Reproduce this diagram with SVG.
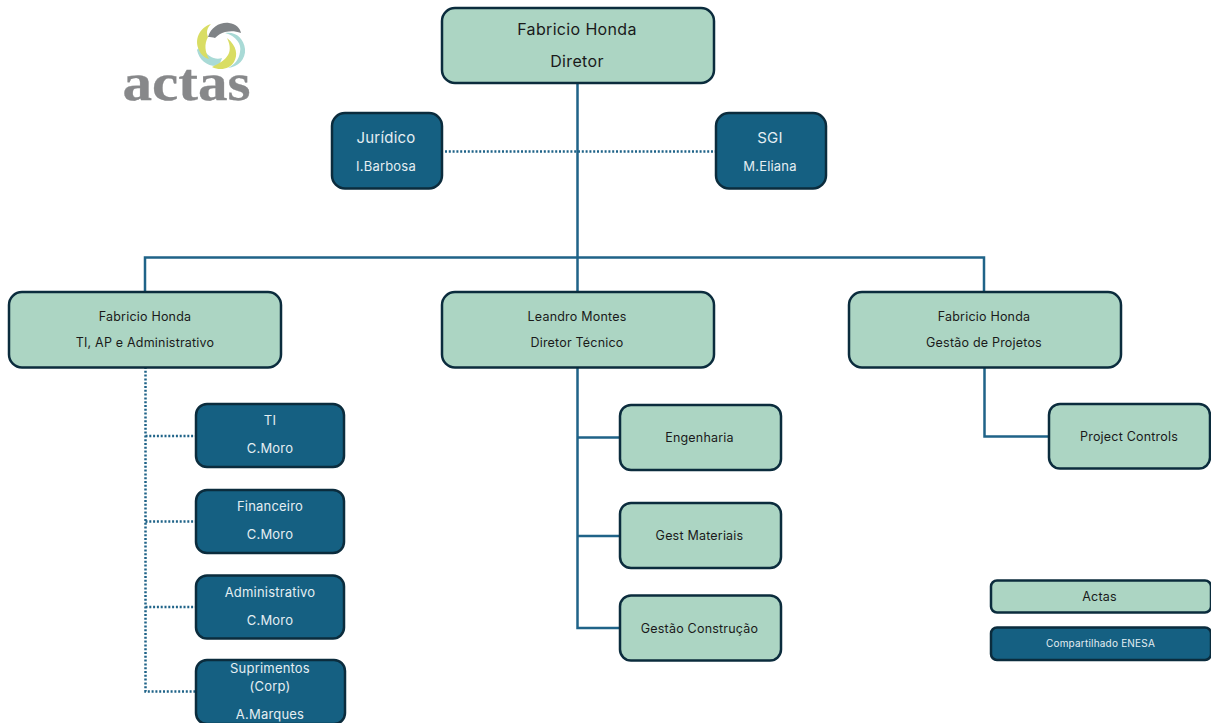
<svg xmlns="http://www.w3.org/2000/svg" width="1211" height="723" viewBox="0 0 1211 723">
<style>
text{font-family:"Inter","Liberation Sans",sans-serif;text-anchor:middle;letter-spacing:.2px}
.g{fill:#acd5c3;stroke:#0b2c3d;stroke-width:2.5}
.b{fill:#156082;stroke:#0b2c3d;stroke-width:2.5}
.gt{fill:#1a1a1a}
.bt{fill:#e4eef2}
.s{font-size:12.5px}
.m{font-size:13px}
.l{font-size:16px;letter-spacing:.35px}
.c{fill:none;stroke:#1f6388;stroke-width:2.5}
.d{fill:none;stroke:#1f6388;stroke-width:2.5;stroke-dasharray:2 1.8}
</style>
<rect width="1211" height="723" fill="#fff"/>
<g id="logo">
<path d="M225 33C236 36 242 44 240 52C239 60 234 65 228 68C238 67 246 59 245 49C244 38 235 31 225 33Z" fill="#a9dad6"/>
<path d="M197 50C199 60 207 66 216 66C219 65 221 62 222 58C216 60 208 58 202 47C200 47 198 48 197 50Z" fill="#a9dad6"/>
<path d="M208 37C211 27 220 22 229 23C236 24 240 28 241 33C235 31 231 31 225 32C221 33 218 35 215 38C213 37 210 37 208 37Z" fill="#7f8386"/>
<path d="M211 24C199 28 194 40 199 50C201 55 205 58 209 59C205 52 204 44 208 37C206 32 207 28 211 24Z" fill="#d9dd63"/>
<path d="M212 67C220 71 230 69 234 62C238 55 237 46 227 38C231 46 230 52 228 55C225 60 220 63 212 67Z" fill="#d9dd63"/>
<text x="186.500" y="100" style="font-family:'Liberation Serif',serif;font-weight:700;font-size:52px;letter-spacing:0;fill:#87888a;stroke:#87888a;stroke-width:.3" textLength="128" lengthAdjust="spacingAndGlyphs">actas</text>
</g>
<g id="connectors">
<path class="c" d="M577.500 83V292M145 292V257.500H984V292M577.500 367V628H620M577.500 437.500H620M577.500 536H620M984.500 367V436.500H1049"/>
<path class="d" d="M445 151.500H716M145.500 367V691.500H196M145.500 436H196M145.500 521.500H196M145.500 607H196"/>
</g>
<g id="n-director"><rect class="g" x="442" y="8" width="272" height="75" rx="13"/><text class="gt l" x="577" y="34.500">Fabricio Honda</text><text class="gt l" x="577" y="66.500">Diretor</text></g>
<g id="n-juridico"><rect class="b" x="332" y="113" width="110" height="75.500" rx="13"/><text class="bt" style="font-size:15px" x="386" y="143">Jurídico</text><text class="bt m" x="386" y="171">I.Barbosa</text></g>
<g id="n-sgi"><rect class="b" x="716" y="113" width="110" height="75.500" rx="13"/><text class="bt" style="font-size:15px" x="770" y="143">SGI</text><text class="bt m" x="770" y="171">M.Eliana</text></g>
<g id="n-ti-ap"><rect class="g" x="9" y="292" width="272" height="75.500" rx="13"/><text class="gt s" x="145" y="320.500">Fabricio Honda</text><text class="gt s" x="145" y="347">TI, AP e Administrativo</text></g>
<g id="n-tecnico"><rect class="g" x="442" y="292" width="272" height="75.500" rx="13"/><text class="gt s" x="577" y="320.500">Leandro Montes</text><text class="gt s" x="577" y="347">Diretor Técnico</text></g>
<g id="n-projetos"><rect class="g" x="849" y="292" width="272" height="75.500" rx="13"/><text class="gt s" x="984" y="320.500">Fabricio Honda</text><text class="gt s" x="984" y="347">Gestão de Projetos</text></g>
<g id="n-ti"><rect class="b" x="196" y="404" width="148" height="63" rx="11"/><text class="bt m" x="270" y="425">TI</text><text class="bt m" x="270" y="453">C.Moro</text></g>
<g id="n-financeiro"><rect class="b" x="196" y="490" width="148" height="63" rx="11"/><text class="bt m" x="270" y="511">Financeiro</text><text class="bt m" x="270" y="539">C.Moro</text></g>
<g id="n-administrativo"><rect class="b" x="196" y="575.500" width="148" height="63" rx="11"/><text class="bt m" x="270" y="597">Administrativo</text><text class="bt m" x="270" y="625">C.Moro</text></g>
<g id="n-suprimentos"><rect class="b" x="196" y="660" width="149" height="64" rx="11"/><text class="bt m" x="270" y="673">Suprimentos</text><text class="bt m" x="270" y="691">(Corp)</text><text class="bt m" x="270" y="719">A.Marques</text></g>
<g id="n-engenharia"><rect class="g" x="620" y="405" width="161" height="65" rx="11"/><text class="gt s" x="699.500" y="442">Engenharia</text></g>
<g id="n-materiais"><rect class="g" x="620" y="503" width="161" height="65" rx="11"/><text class="gt s" x="699.500" y="540">Gest Materiais</text></g>
<g id="n-construcao"><rect class="g" x="620" y="595.500" width="161" height="65" rx="11"/><text class="gt s" x="699.500" y="633">Gestão Construção</text></g>
<g id="n-controls"><rect class="g" x="1049" y="404" width="161" height="64.500" rx="11"/><text class="gt s" x="1129" y="441">Project Controls</text></g>
<g id="legend-actas"><rect class="g" x="991" y="580.500" width="220" height="32" rx="6"/><text class="gt s" x="1099.500" y="601">Actas</text></g>
<g id="legend-enesa"><rect class="b" x="991" y="627.500" width="220" height="32.500" rx="6"/><text class="bt" style="font-size:10px" x="1100.500" y="647">Compartilhado ENESA</text></g>
</svg>
